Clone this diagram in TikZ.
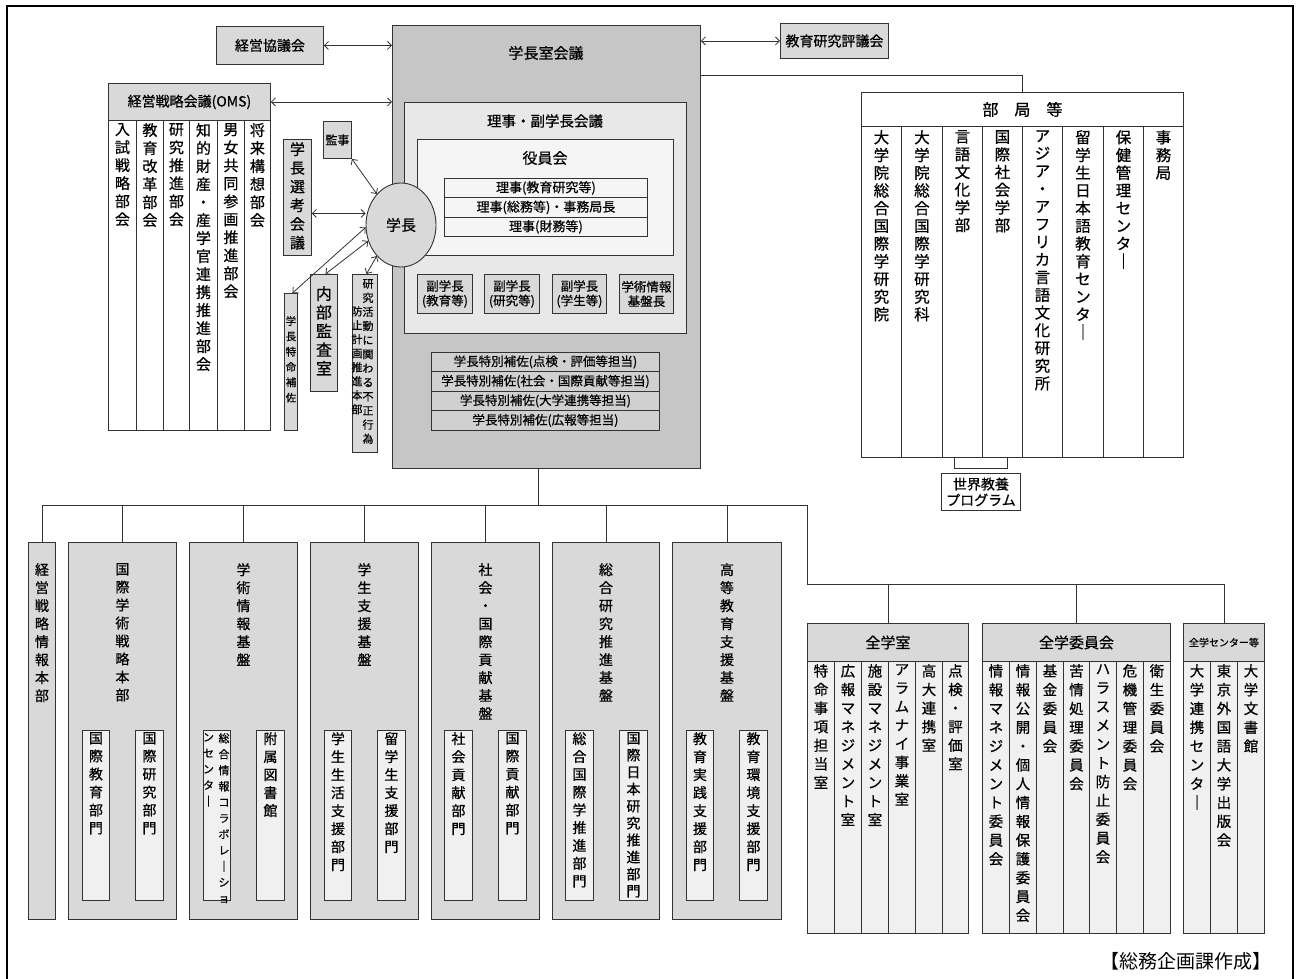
\documentclass[tikz,border=0pt]{standalone}
\usepackage{fontspec}
\setmainfont{Noto Sans CJK JP}[FakeBold=0.6]
\newfontfamily\plainjp{Noto Sans CJK JP}
\usetikzlibrary{shapes.geometric,arrows.meta,calc}
\definecolor{gA}{HTML}{C6C6C6}
\definecolor{gB}{HTML}{E8E8E8}
\definecolor{gC}{HTML}{F5F5F5}
\definecolor{gD}{HTML}{D9D9D9}
\definecolor{gE}{HTML}{D0D0D0}
\definecolor{gF}{HTML}{F0F0F0}
\definecolor{ln}{HTML}{333333}
\def\vtend{VTEND}
\def\vtl#1{\ifx\vtend#1\else\hbox to 1.15em{\hss#1\hss}\expandafter\vtl\fi}
\newcommand\vt[2][18]{\vbox{\baselineskip=#1pt\lineskiplimit=-100pt\lineskip=0pt\vtl#2\vtend}}
\tikzset{
  bx/.style={draw=ln, line width=0.9pt, inner sep=0pt, anchor=north west},
  ar/.style={{Straight Barb[length=4pt,width=8pt]}-{Straight Barb[length=4pt,width=8pt]}, draw=ln, line width=0.8pt},
  wire/.style={draw=ln, line width=0.9pt},
  fs/.style={font=\fontsize{#1}{#1}\selectfont},
}
\newcommand\bxn[8][]{\node[bx,fill=#7,minimum width={#5-#3},minimum height={#6-#4},#1] (#2) at (#3,#4) {#8};}
\newcommand\vlab[6][18]{\node[inner sep=0pt,anchor=north,font=\fontsize{#5}{#5}\selectfont] (#2) at ([yshift=-#3pt]#4) {\vt[#1]{#6}};}
\begin{document}
\begin{tikzpicture}[x=1pt,y=-1pt]
\useasboundingbox (0,0) rectangle (1298,979);
\draw[line width=1.8pt] (7,979) -- (7,6) -- (1293,6) -- (1293,979);

% ---------- main box ----------
\bxn{main}{392}{25}{700}{468}{gA}{}
\node[fs=15] (tmain) at (546,53) {学長室会議};
\bxn{fuku}{404}{102}{686}{333}{gB}{}
\node[fs=14.5] (tfuku) at (545,121) {理事・副学長会議};
\bxn{yaku}{417}{139}{673}{255}{gC}{}
\node[fs=15] (tyaku) at (545,158) {役員会};
\bxn[fs=13]{r1}{444}{178}{647}{197}{gC}{理事(教育研究等)}
\bxn[fs=13]{r2}{444}{197}{647}{217}{gC}{理事(総務等)・事務局長}
\bxn[fs=13]{r3}{444}{217}{647}{236}{gC}{理事(財務等)}
\bxn[align=center,font=\fontsize{12.5}{14.5}\selectfont]{v1}{417}{274}{472}{313}{gD}{副学長\\(教育等)}
\bxn[align=center,font=\fontsize{12.5}{14.5}\selectfont]{v2}{484}{274}{539}{313}{gD}{副学長\\(研究等)}
\bxn[align=center,font=\fontsize{12.5}{14.5}\selectfont]{v3}{552}{274}{606}{313}{gD}{副学長\\(学生等)}
\bxn[align=center,font=\fontsize{12.5}{14.5}\selectfont]{v4}{619}{274}{673}{313}{gD}{学術情報\\基盤長}
\bxn[fs=12.5]{s1}{431}{352}{659}{371}{gE}{学長特別補佐(点検・評価等担当)}
\bxn[fs=12.5]{s2}{431}{371}{659}{391}{gE}{学長特別補佐(社会・国際貢献等担当)}
\bxn[fs=12.5]{s3}{431}{391}{659}{410}{gE}{学長特別補佐(大学連携等担当)}
\bxn[fs=12.5]{s4}{431}{410}{659}{430}{gE}{学長特別補佐(広報等担当)}

% ---------- left top ----------
\bxn[fs=14]{kyogi}{216}{26}{323}{64}{gD}{経営協議会}
\draw[ar] (kyogi.east) -- (main.west |- kyogi.east);
\bxn[fs=14]{omsh}{108}{83}{270}{120}{gD}{経営戦略会議(OMS)}
\draw[ar] (omsh.east) -- (main.west |- omsh.east);
\bxn{om1}{108}{120}{136}{430}{white}{}
\bxn{om2}{136}{120}{163}{430}{white}{}
\bxn{om3}{163}{120}{189}{430}{white}{}
\bxn{om4}{189}{120}{217}{430}{white}{}
\bxn{om5}{217}{120}{244}{430}{white}{}
\bxn{om6}{244}{120}{270}{430}{white}{}
\vlab{tom1}{3}{om1.north}{15}{入試戦略部会}
\vlab{tom2}{3}{om2.north}{15}{教育改革部会}
\vlab{tom3}{3}{om3.north}{15}{研究推進部会}
\vlab{tom4}{3}{om4.north}{15}{知的財産・産学官連携推進部会}
\vlab{tom5}{3}{om5.north}{15}{男女共同参画推進部会}
\vlab{tom6}{3}{om6.north}{15}{将来構想部会}

\bxn[fs=12]{kanji}{323}{121}{351}{158}{gD}{監事}
\bxn{senko}{283}{139}{311}{255}{gD}{}
\vlab[18.7]{tsenko}{3}{senko.north}{15}{学長選考会議}
\bxn{naibu}{310}{274}{337}{391}{gD}{}
\vlab[18.7]{tnaibu}{12}{naibu.north}{16}{内部監査室}
\bxn{tokumei}{284}{293}{297}{430}{gD}{}
\vlab[15.3]{ttokumei}{23}{tokumei.north}{10.5}{学長特命補佐}
\bxn{fusei}{352}{274}{377}{452}{gD}{}
\vlab[14.1]{tfusei1}{5}{368,274}{11}{研究活動に関わる不正行為}
\vlab[14]{tfusei2}{32}{357,274}{11}{防止計画推進本部}

\node[ellipse,draw=ln,line width=0.9pt,fill=gD,minimum width=70,minimum height=84,inner sep=0pt,fs=15] (gakucho) at (401,225) {学長};
\draw[ar] (kanji.south east) -- (gakucho.128);
\draw[ar] ([yshift=-16pt]senko.east) -- ([yshift=-16pt]senko.east -| gakucho.west);
\draw[ar] ([xshift=1.5pt]tokumei.north) -- (gakucho.184);
\draw[ar] ([xshift=1.5pt]naibu.north) -- (gakucho.206);
\draw[ar] ([xshift=1.5pt]fusei.north) -- (gakucho.232);

% ---------- right top ----------
\bxn[fs=14]{hyoka}{780}{23}{888}{58}{gD}{教育研究評議会}
\draw[ar] (main.east |- hyoka.west) -- (hyoka.west);
\bxn{bukyoku}{861}{92}{1183}{457}{white}{}
\bxn[fs=16]{bkh}{861}{92}{1183}{126}{white}{部\quad 局\quad 等}
\draw[wire] ([yshift=-50pt]main.north east) -| (bukyoku.north);
\bxn{bk1}{861}{126}{901}{457}{white}{}
\bxn{bk2}{901}{126}{942}{457}{white}{}
\bxn{bk3}{942}{126}{982}{457}{white}{}
\bxn{bk4}{982}{126}{1022}{457}{white}{}
\bxn{bk5}{1022}{126}{1062}{457}{white}{}
\bxn{bk6}{1062}{126}{1103}{457}{white}{}
\bxn{bk7}{1103}{126}{1143}{457}{white}{}
\bxn{bk8}{1143}{126}{1183}{457}{white}{}
\vlab[17.7]{tbk1}{4}{bk1.north}{15.5}{大学院総合国際学研究院}
\vlab[17.7]{tbk2}{4}{bk2.north}{15.5}{大学院総合国際学研究科}
\vlab[17.7]{tbk3}{4}{bk3.north}{15.5}{言語文化学部}
\vlab[17.7]{tbk4}{4}{bk4.north}{15.5}{国際社会学部}
\vlab[17.7]{tbk5}{4}{bk5.north}{15.5}{アジア・アフリカ言語文化研究所}
\vlab[17.7]{tbk6}{4}{bk6.north}{15.5}{留学生日本語教育センタ｜}
\vlab[17.7]{tbk7}{4}{bk7.north}{15.5}{保健管理センタ｜}
\vlab[17.7]{tbk8}{4}{bk8.north}{15.5}{事務局}
\coordinate (brA) at (954,457);
\coordinate (brB) at (1007,457);
\draw[wire] (brA) -- ++(0,11) -| (brB);
\bxn[align=center,font=\fontsize{14}{16}\selectfont]{sekai}{941}{473}{1020}{510}{white}{世界教養\\プログラム}

% ---------- bottom bus ----------
\coordinate (busL) at (42,505);
\coordinate (busR) at (807,505);
\coordinate (bus2L) at (807,584);
\coordinate (bus2R) at (1224,584);
\draw[wire] ([xshift=-8pt]main.south) -- ([xshift=-8pt]main.south |- busL);
\draw[wire] (busL) -- (busR) -- (bus2L) -- (bus2R);

\bxn{k0}{28}{542}{55}{919}{gD}{}
\bxn{k1}{68}{542}{176}{919}{gD}{}
\bxn{k2}{189}{542}{297}{919}{gD}{}
\bxn{k3}{310}{542}{418}{919}{gD}{}
\bxn{k4}{431}{542}{539}{919}{gD}{}
\bxn{k5}{552}{542}{659}{919}{gD}{}
\bxn{k6}{672}{542}{781}{919}{gD}{}
\foreach \k in {k0,k1,k2,k3,k4,k5,k6}{\draw[wire] (\k.north |- busL) -- (\k.north);}
\vlab{tk0}{21}{k0.north}{14}{経営戦略情報本部}
\vlab{tk1}{21}{k1.north}{14}{国際学術戦略本部}
\vlab{tk2}{21}{k2.north}{14}{学術情報基盤}
\vlab{tk3}{21}{k3.north}{14}{学生支援基盤}
\vlab{tk4}{21}{k4.north}{14}{社会・国際貢献基盤}
\vlab{tk5}{21}{k5.north}{14}{総合研究推進基盤}
\vlab{tk6}{21}{k6.north}{14}{高等教育支援基盤}

\bxn{k1a}{82}{730}{109}{900}{gF}{}
\bxn{k1b}{135}{730}{163}{900}{gF}{}
\bxn{k2a}{203}{730}{230}{900}{gF}{}
\bxn{k2b}{256}{730}{284}{900}{gF}{}
\bxn{k3a}{324}{730}{351}{900}{gF}{}
\bxn{k3b}{377}{730}{405}{900}{gF}{}
\bxn{k4a}{444}{730}{472}{900}{gF}{}
\bxn{k4b}{498}{730}{526}{900}{gF}{}
\bxn{k5a}{565}{730}{593}{900}{gF}{}
\bxn{k5b}{619}{730}{647}{900}{gF}{}
\bxn{k6a}{686}{730}{713}{900}{gF}{}
\bxn{k6b}{739}{730}{767}{900}{gF}{}
\vlab{tk1a}{2}{k1a.north}{14}{国際教育部門}
\vlab{tk1b}{2}{k1b.north}{14}{国際研究部門}
\vlab[16]{tk2a1}{3}{224,730}{11}{総合情報コラボレ｜ショ}
\vlab[16]{tk2a2}{3}{208.5,730}{11}{ンセンタ｜}
\vlab{tk2b}{2}{k2b.north}{14}{附属図書館}
\vlab{tk3a}{2}{k3a.north}{14}{学生生活支援部門}
\vlab{tk3b}{2}{k3b.north}{14}{留学生支援部門}
\vlab{tk4a}{2}{k4a.north}{14}{社会貢献部門}
\vlab{tk4b}{2}{k4b.north}{14}{国際貢献部門}
\vlab[17.8]{tk5a}{2}{k5a.north}{14}{総合国際学推進部門}
\vlab[17]{tk5b}{2}{k5b.north}{14}{国際日本研究推進部門}
\vlab{tk6a}{2}{k6a.north}{14}{教育実践支援部門}
\vlab{tk6b}{2}{k6b.north}{14}{教育環境支援部門}

% ---------- bottom right ----------
\bxn{zs}{807}{623}{968}{933}{gF}{}
\bxn[fs=15]{zsh}{807}{623}{968}{661}{gD}{全学室}
\bxn{zi}{982}{623}{1170}{933}{gF}{}
\bxn[fs=15]{zih}{982}{623}{1170}{661}{gD}{全学委員会}
\bxn{zc}{1183}{623}{1264}{933}{gF}{}
\bxn[fs=10]{zch}{1183}{623}{1264}{661}{gD}{全学センター等}
\foreach \k in {zs,zi,zc}{\draw[wire] (\k.north |- bus2L) -- (\k.north);}

\bxn{zs1}{807}{661}{834}{933}{gF}{}
\bxn{zs2}{834}{661}{861}{933}{gF}{}
\bxn{zs3}{861}{661}{888}{933}{gF}{}
\bxn{zs4}{888}{661}{915}{933}{gF}{}
\bxn{zs5}{915}{661}{942}{933}{gF}{}
\bxn{zs6}{942}{661}{968}{933}{gF}{}
\vlab[18.6]{tzs1}{3}{zs1.north}{14.5}{特命事項担当室}
\vlab[18.6]{tzs2}{3}{zs2.north}{14.5}{広報マネジメント室}
\vlab[18.6]{tzs3}{3}{zs3.north}{14.5}{施設マネジメント室}
\vlab[18.6]{tzs4}{3}{zs4.north}{14.5}{アラムナイ事業室}
\vlab[18.6]{tzs5}{3}{zs5.north}{14.5}{高大連携室}
\vlab[18.6]{tzs6}{3}{zs6.north}{14.5}{点検・評価室}

\bxn{zi1}{982}{661}{1009}{933}{gF}{}
\bxn{zi2}{1009}{661}{1036}{933}{gF}{}
\bxn{zi3}{1036}{661}{1063}{933}{gF}{}
\bxn{zi4}{1063}{661}{1089}{933}{gF}{}
\bxn{zi5}{1089}{661}{1116}{933}{gF}{}
\bxn{zi6}{1116}{661}{1143}{933}{gF}{}
\bxn{zi7}{1143}{661}{1170}{933}{gF}{}
\vlab[18.8]{tzi1}{3}{zi1.north}{14.5}{情報マネジメント委員会}
\vlab[18.8]{tzi2}{3}{zi2.north}{14.5}{情報公開・個人情報保護委員会}
\vlab[18.8]{tzi3}{3}{zi3.north}{14.5}{基金委員会}
\vlab[18.8]{tzi4}{3}{zi4.north}{14.5}{苦情処理委員会}
\vlab[18.8]{tzi5}{3}{zi5.north}{14.5}{ハラスメント防止委員会}
\vlab[18.8]{tzi6}{3}{zi6.north}{14.5}{危機管理委員会}
\vlab[18.8]{tzi7}{3}{zi7.north}{14.5}{衛生委員会}

\bxn{zc1}{1183}{661}{1210}{933}{gF}{}
\bxn{zc2}{1210}{661}{1237}{933}{gF}{}
\bxn{zc3}{1237}{661}{1264}{933}{gF}{}
\vlab[18.8]{tzc1}{3}{zc1.north}{14.5}{大学連携センタ｜}
\vlab[18.8]{tzc2}{3}{zc2.north}{14.5}{東京外国語大学出版会}
\vlab[18.8]{tzc3}{3}{zc3.north}{14.5}{大学文書館}

\node[anchor=east,inner sep=0pt,font=\plainjp\fontsize{19}{20}\selectfont] (credit) at (1272,961) {【総務企画課作成】};
\end{tikzpicture}
\end{document}
